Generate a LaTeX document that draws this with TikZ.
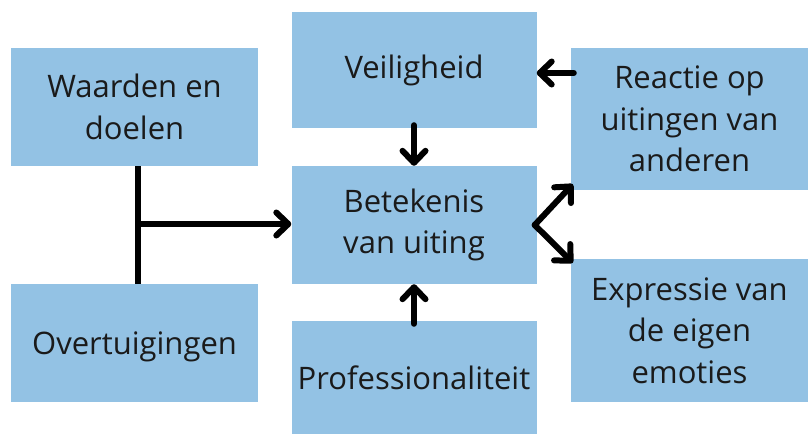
\documentclass[tikz,border=0pt]{standalone}
\usepackage{fontspec}
\setmainfont{Open Sans}
\usetikzlibrary{arrows.meta}
\definecolor{boxblue}{HTML}{93C2E4}
\definecolor{txt}{HTML}{1A1A1A}
\tikzset{
  box/.style={rectangle, fill=boxblue, draw=none, inner sep=0pt, align=center,
    text=txt, font=\fontsize{31}{41.5}\selectfont},
  conn/.style={line width=6pt, black, line cap=round, line join=round},
  arr/.style={conn, -{Straight Barb[length=12pt, width=23pt, line cap=round, line join=round]}}
}
\begin{document}
\begin{tikzpicture}[x=1pt, y=-1pt]
\useasboundingbox (0,0) rectangle (808,434);
\node[box, minimum width=247pt, minimum height=118pt] (W) at (134.5,107) {Waarden en\\doelen};
\node[box, minimum width=247pt, minimum height=118pt, text depth=0pt] (O) at (134.5,343) {Overtuigingen};
\node[box, minimum width=245pt, minimum height=116pt] (V) at (414,70) {Veiligheid};
\node[box, minimum width=245pt, minimum height=118pt] (B) at (414,225) {Betekenis\\van uiting};
\node[box, minimum width=245pt, minimum height=113pt] (P) at (414,377.5) {Professionaliteit};
\node[box, minimum width=237pt, minimum height=142pt] (R) at (689.5,119) {Reactie op\\uitingen van\\anderen};
\node[box, minimum width=237pt, minimum height=143pt] (E) at (689.5,330.5) {Expressie van\\de eigen\\emoties};
\coordinate (j) at (138,224);
\draw[conn, line cap=butt] (W.south -| j) -- (O.north -| j);
\draw[arr] (j) -- (B.west |- j);
\draw[arr, shorten <=-3pt] (V.south) -- (B.north);
\draw[arr, shorten <=-3pt] (P.north) -- (B.south);
\draw[arr, shorten <=-3pt] ([yshift=-3pt]R.west |- V.east) -- ([yshift=-3pt]V.east);
\draw[arr] ([xshift=-2pt]B.east) -- ([shift={(2pt,6pt)}]R.south west);
\draw[arr] ([xshift=-2pt]B.east) -- ([shift={(2pt,-4pt)}]E.north west);
\end{tikzpicture}
\end{document}
